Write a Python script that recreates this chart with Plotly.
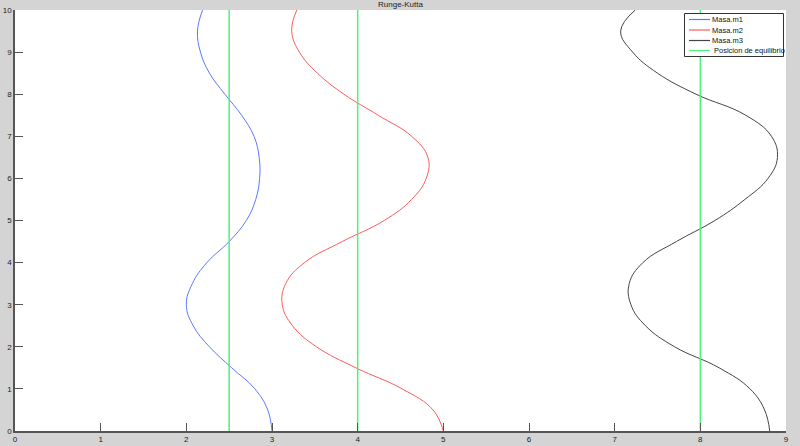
import plotly.graph_objects as go

# time (y axis) and positions (x axis)
t_vals = [0, 0.5, 1.0, 1.5, 2.0, 2.5, 3.0, 3.5, 4.0, 4.5, 5.0, 5.5, 6.0, 6.5, 7.0, 7.5, 8.0, 8.5, 9.0, 9.5, 10.0]
x_m1 = [3.0, 2.95, 2.80, 2.53, 2.27, 2.08, 2.0, 2.07, 2.24, 2.50, 2.70, 2.81, 2.855, 2.85, 2.79, 2.645, 2.45, 2.27, 2.165, 2.13, 2.19]
x_m2 = [5.0, 4.88, 4.52, 3.98, 3.52, 3.24, 3.12, 3.16, 3.38, 3.82, 4.31, 4.63, 4.80, 4.82, 4.63, 4.24, 3.84, 3.53, 3.32, 3.23, 3.29]
x_m3 = [8.81, 8.75, 8.58, 8.22, 7.70, 7.36, 7.19, 7.17, 7.33, 7.72, 8.17, 8.52, 8.79, 8.90, 8.83, 8.53, 7.95, 7.50, 7.21, 7.07, 7.24]

equilibrium = [2.5, 4, 8]
t_span = [0, 10]

x_ticks = list(range(0, 10))
y_ticks = list(range(0, 11))

names = ["Masa.m1", "Masa.m2", "Masa.m3", "Posicion de equilibrio"]
colors = ["#5a78ff", "#ff5a5a", "#444444", "#50f07a"]
title = "Runge-Kutta"

W, H = 800, 446
ML, MR, MT, MB = 15, 14, 10, 15
PW, PH = W - ML - MR, H - MT - MB


def px(x):
    return (x - ML) / PW


def py(y):
    return (H - MB - y) / PH


fig = go.Figure()
for xs, nm, col in zip([x_m1, x_m2, x_m3], names[:3], colors[:3]):
    fig.add_trace(go.Scatter(x=xs, y=t_vals, mode="lines", name=nm, showlegend=False,
                             line=dict(color=col, width=1, shape="spline", smoothing=1.2)))
for xe in equilibrium:
    fig.add_trace(go.Scatter(x=[xe, xe], y=t_span, mode="lines", name=names[3],
                             showlegend=False,
                             line=dict(color=colors[3], width=1.5)))

axis_common = dict(showgrid=False, zeroline=False, showline=True, automargin=False,
                   linecolor="#555555", linewidth=1.5,
                   ticks="inside", ticklen=8, tickcolor="#555555", tickwidth=1,
                   tickfont=dict(family="Liberation Sans", size=8, color="#222222"),
                   mirror=False)

# manual legend box (MATLAB style, compact)
shapes = [dict(type="rect", xref="paper", yref="paper",
               x0=px(684.5), x1=px(783.5), y0=py(56.5), y1=py(13.5),
               fillcolor="#ffffff", line=dict(color="#333333", width=1), layer="above")]
annotations = []
row_y = [19.5, 30, 40.5, 50.5]
for nm, col, yy in zip(names, colors, row_y):
    shapes.append(dict(type="line", xref="paper", yref="paper",
                       x0=px(689), x1=px(710), y0=py(yy), y1=py(yy),
                       line=dict(color=col, width=1.2), layer="above"))
    annotations.append(dict(text=nm, xref="paper", yref="paper",
                            x=px(710 if nm != names[3] else 711.5), y=py(yy),
                            xanchor="left", yanchor="middle", showarrow=False,
                            font=dict(family="Liberation Sans", size=7.5, color="#111111")))

annotations.append(dict(text=title, x=0.5, y=1.0, xref="paper", yref="paper",
                        xanchor="center", yanchor="bottom", showarrow=False,
                        font=dict(family="Liberation Sans", size=8, color="#222222"),
                        yshift=-1))

fig.update_layout(
    width=W, height=H,
    margin=dict(l=ML, r=MR, t=MT, b=MB),
    paper_bgcolor="#d4d4d4",
    plot_bgcolor="#ffffff",
    font=dict(family="Liberation Sans", size=8, color="#222222"),
    xaxis=dict(range=[0, 9], tickvals=x_ticks, **axis_common),
    yaxis=dict(range=[0, 10], tickvals=y_ticks, **axis_common),
    showlegend=False,
    shapes=shapes,
    annotations=annotations,
)

fig.write_html("out.html", config={"displayModeBar": False},
               post_script="document.body.style.margin='0';document.body.style.overflow='hidden';")
